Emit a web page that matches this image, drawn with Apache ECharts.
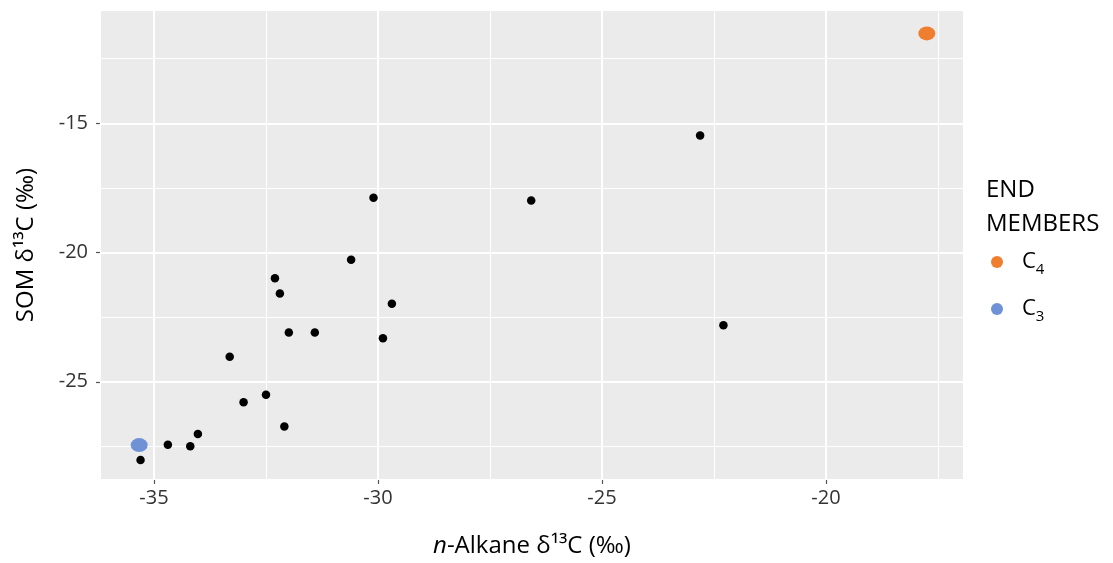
<!DOCTYPE html>
<html><head><meta charset="utf-8">
<script src="https://cdn.jsdelivr.net/npm/echarts@6/dist/echarts.min.js"></script>
<style>html,body{margin:0;padding:0;background:#fff}#c{width:1113px;height:563px}</style>
</head><body><div id="c"></div>
<script>
// n-Alkane δ13C (x) and SOM δ13C (y) for the samples
const alkane = [-35.30, -34.69, -34.19, -34.02, -33.31, -33.00, -32.50, -32.09, -31.99, -31.41,
                -29.89, -29.69, -32.30, -32.19, -30.60, -30.10, -26.58, -22.81, -22.29];
const som    = [-28.03, -27.44, -27.49, -27.02, -24.03, -25.79, -25.50, -26.73, -23.09, -23.09,
                -23.32, -21.98, -20.99, -21.58, -20.28, -17.88, -17.99, -15.47, -22.81];
// end members
const c4Point = [-17.75, -11.52];
const c3Point = [-35.33, -27.45];
// axis extents and minor grid positions
const xRange = [-36.205, -16.92];
const yRange = [-28.80, -10.615];
const xMinor = [-32.5, -27.5, -22.5, -17.5];
const yMinor = [-12.5, -17.5, -22.5, -27.5];

const FONT = "'Open Sans', 'DejaVu Sans', sans-serif";
const ELLIPSE = 'path://M0,50 A50,50 0 1,1 100,50 A50,50 0 1,1 0,50 Z';
const ORANGE = '#EF7F2E', BLUE = '#6E92D5';

const samples = alkane.map((x, i) => [x, som[i]]);

const chart = echarts.init(document.getElementById('c'), null, {renderer: 'canvas'});
chart.setOption({
  animation: false,
  backgroundColor: '#fff',
  grid: {left: 100, top: 10, right: 149, bottom: 83, show: true,
         backgroundColor: '#EBEBEB', borderWidth: 0},
  xAxis: {
    type: 'value', min: xRange[0], max: xRange[1], splitNumber: 4,
    name: '{i|n}{t|-Alkane δ¹³C (‰)}', nameLocation: 'middle', nameGap: 54,
    nameTextStyle: {fontFamily: FONT, fontSize: 24, color: '#000',
      rich: {i: {fontFamily: FONT, fontSize: 24, fontStyle: 'italic', color: '#000'},
             t: {fontFamily: FONT, fontSize: 24, color: '#000'}}},
    axisLine: {show: false},
    axisTick: {show: true, length: 4, lineStyle: {color: '#555', width: 1.2}},
    axisLabel: {fontFamily: FONT, fontSize: 20, color: '#333', margin: 8,
                showMinLabel: false, showMaxLabel: false},
    splitLine: {show: true, lineStyle: {color: '#fff', width: 2}}
  },
  yAxis: {
    type: 'value', min: yRange[0], max: yRange[1], splitNumber: 4,
    name: 'SOM δ¹³C (‰)', nameLocation: 'middle', nameGap: 62,
    nameTextStyle: {fontFamily: FONT, fontSize: 24, color: '#000'},
    axisLine: {show: false},
    axisTick: {show: true, length: 4, lineStyle: {color: '#555', width: 1.2}},
    axisLabel: {fontFamily: FONT, fontSize: 20, color: '#333', margin: 12,
                showMinLabel: false, showMaxLabel: false},
    splitLine: {show: true, lineStyle: {color: '#fff', width: 2}}
  },
  legend: {
    orient: 'vertical', left: 986, top: 246, itemWidth: 16, itemHeight: 12,
    itemGap: 21, data: ['C4', 'C3'],
    formatter: n => '{c|C}{s|' + n.slice(1) + '}',
    textStyle: {fontFamily: FONT, fontSize: 22, color: '#000', padding: [0, 0, 0, 12],
      rich: {c: {fontFamily: FONT, fontSize: 22, lineHeight: 30, color: '#000'},
             s: {fontFamily: FONT, fontSize: 15, lineHeight: 18, verticalAlign: 'bottom', color: '#000'}}}
  },
  graphic: [{
    type: 'text', left: 986, top: 173,
    style: {text: 'END\nMEMBERS', font: '24px ' + FONT, lineHeight: 34, fill: '#000'}
  }],
  series: [
    {type: 'line', data: [], z: 1, silent: true,
     markLine: {silent: true, z: 1, symbol: 'none', label: {show: false}, animation: false,
       lineStyle: {color: '#fff', width: 1, type: 'solid'},
       data: xMinor.map(v => ({xAxis: v})).concat(yMinor.map(v => ({yAxis: v})))}},
    {type: 'scatter', name: 'samples', data: samples, symbol: 'circle', symbolSize: 8.5,
     itemStyle: {color: '#000', opacity: 1}, z: 6},
    {type: 'scatter', name: 'C4', data: [c4Point], symbol: ELLIPSE, symbolSize: [17, 14],
     itemStyle: {color: ORANGE, opacity: 1}, z: 7},
    {type: 'scatter', name: 'C3', data: [c3Point], symbol: ELLIPSE, symbolSize: [17, 14],
     itemStyle: {color: BLUE, opacity: 1}, z: 7}
  ]
});
</script></body></html>
